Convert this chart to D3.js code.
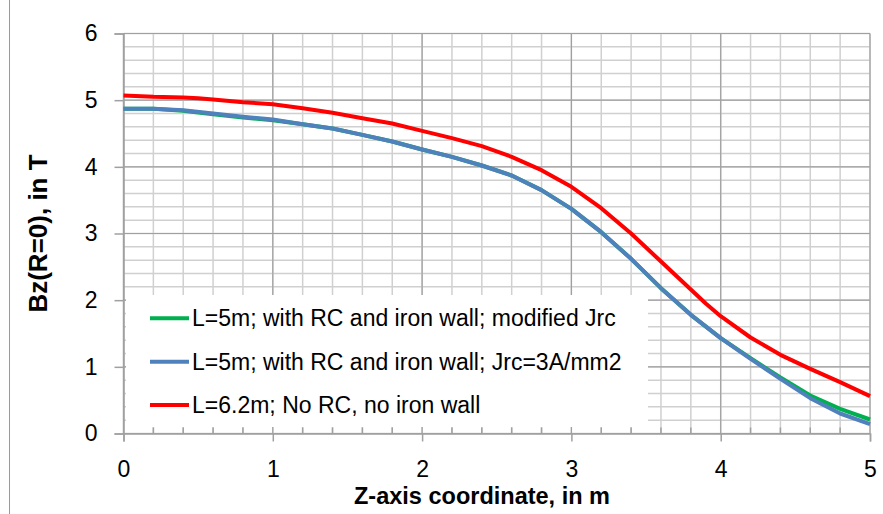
<!doctype html>
<html>
<head>
    <meta charset="UTF-8">
    <title>Bz on axis</title>
    <script src="https://d3js.org/d3.v7.min.js" charset="utf-8"></script>
    <style>
        body { margin: 0; background: #fff; }
        * { font-family: "Liberation Sans", Arial, sans-serif; }
    </style>
</head>
<body>
<script>
    // z positions (m) and Bz values (T)
    var zRed   = [0, 0.2, 0.4, 0.5, 0.6, 0.8, 1.0, 1.2, 1.4, 1.6, 1.8, 2.0, 2.2, 2.4, 2.6, 2.8, 3.0, 3.2, 3.4, 3.6, 3.8, 3.9, 4.0, 4.2, 4.4, 4.6, 4.8, 5.0];
    var bRed   = [5.07, 5.05, 5.04, 5.03, 5.01, 4.97, 4.94, 4.88, 4.81, 4.73, 4.65, 4.54, 4.43, 4.31, 4.15, 3.95, 3.70, 3.38, 3.00, 2.58, 2.16, 1.95, 1.76, 1.44, 1.18, 0.97, 0.77, 0.56];
    var zBlue  = [0, 0.2, 0.4, 0.6, 0.8, 1.0, 1.2, 1.4, 1.6, 1.8, 2.0, 2.2, 2.4, 2.6, 2.8, 3.0, 3.2, 3.4, 3.6, 3.8, 4.0, 4.2, 4.4, 4.6, 4.8, 5.0];
    var bBlue  = [4.87, 4.87, 4.85, 4.80, 4.75, 4.71, 4.64, 4.575, 4.48, 4.38, 4.26, 4.15, 4.02, 3.87, 3.65, 3.37, 3.02, 2.62, 2.18, 1.78, 1.43, 1.12, 0.82, 0.53, 0.30, 0.14];
    var zGreen = zBlue;
    var bGreen = [4.87, 4.87, 4.84, 4.79, 4.74, 4.70, 4.64, 4.575, 4.48, 4.38, 4.26, 4.15, 4.02, 3.87, 3.65, 3.37, 3.02, 2.62, 2.18, 1.78, 1.43, 1.13, 0.84, 0.57, 0.37, 0.21];

    var seriesNames = ["L=5m; with RC and iron wall; modified Jrc",
                       "L=5m; with RC and iron wall; Jrc=3A/mm2",
                       "L=6.2m; No RC, no iron wall"];
    var seriesColors = ["#00b050", "#4f81bd", "#ff0000"];

    var xTicks = [0, 1, 2, 3, 4, 5];
    var yTicks = [0, 1, 2, 3, 4, 5, 6];

    var W = 883, H = 514;
    var pLeft = 123.5, pRight = 870, pTop = 33.5, pBottom = 433.5;

    var x = d3.scaleLinear().domain([0, 5]).range([pLeft, pRight]);
    var y = d3.scaleLinear().domain([0, 6]).range([pBottom, pTop]);

    var svg = d3.select("body").append("svg")
        .attr("width", W)
        .attr("height", H);

    // outer chart frame edge on the left
    svg.append("line")
        .attr("x1", 9.5).attr("x2", 9.5)
        .attr("y1", 0).attr("y2", H)
        .attr("stroke", "#9a9a9a")
        .attr("stroke-width", 1);

    // minor grid every 0.2
    var minorX = d3.range(0, 26).map(function(i) { return i * 0.2; });
    var minorY = d3.range(0, 31).map(function(i) { return i * 0.2; });

    svg.append("g").selectAll("line")
        .data(minorX)
        .enter().append("line")
            .attr("x1", function(d) { return x(d); })
            .attr("x2", function(d) { return x(d); })
            .attr("y1", pTop).attr("y2", pBottom)
            .attr("stroke", "#d0d0d0")
            .attr("stroke-width", 1.5);

    svg.append("g").selectAll("line")
        .data(minorY)
        .enter().append("line")
            .attr("x1", pLeft).attr("x2", pRight)
            .attr("y1", function(d) { return y(d); })
            .attr("y2", function(d) { return y(d); })
            .attr("stroke", "#d0d0d0")
            .attr("stroke-width", 1.5);

    // major grid
    svg.append("g").selectAll("line")
        .data(xTicks)
        .enter().append("line")
            .attr("x1", function(d) { return x(d); })
            .attr("x2", function(d) { return x(d); })
            .attr("y1", pTop).attr("y2", pBottom)
            .attr("stroke", "#a0a0a0")
            .attr("stroke-width", 1.2);

    svg.append("g").selectAll("line")
        .data(yTicks)
        .enter().append("line")
            .attr("x1", pLeft).attr("x2", pRight)
            .attr("y1", function(d) { return y(d); })
            .attr("y2", function(d) { return y(d); })
            .attr("stroke", "#a0a0a0")
            .attr("stroke-width", 1.2);

    // axes
    var xAxis = d3.axisBottom(x).tickValues(xTicks).tickFormat(d3.format("d")).tickSize(8).tickPadding(19);
    var yAxis = d3.axisLeft(y).tickValues(yTicks).tickFormat(d3.format("d")).tickSize(9).tickPadding(17);

    var gx = svg.append("g").attr("transform", "translate(0," + pBottom + ")").call(xAxis);
    var gy = svg.append("g").attr("transform", "translate(" + pLeft + ",0)").call(yAxis);

    [gx, gy].forEach(function(g) {
        g.select(".domain").attr("stroke", "#a0a0a0").attr("stroke-width", 1.5);
        g.selectAll(".tick line").attr("stroke", "#a0a0a0").attr("stroke-width", 1.5);
        g.selectAll(".tick text")
            .attr("font-size", 23)
            .attr("font-family", "Liberation Sans")
            .attr("fill", "#000");
    });

    // small inside ticks at minor steps
    svg.append("g").selectAll("line")
        .data(minorX.filter(function(d) { return Math.abs(d - Math.round(d)) > 0.01; }))
        .enter().append("line")
            .attr("x1", function(d) { return x(d); })
            .attr("x2", function(d) { return x(d); })
            .attr("y1", pBottom - 6).attr("y2", pBottom)
            .attr("stroke", "#a0a0a0")
            .attr("stroke-width", 1.5);

    // series lines
    var lineGen = d3.line()
        .x(function(d) { return x(d[0]); })
        .y(function(d) { return y(d[1]); });

    var series = [
        d3.zip(zGreen, bGreen),
        d3.zip(zBlue, bBlue),
        d3.zip(zRed, bRed)
    ];

    svg.append("g").selectAll("path")
        .data(series)
        .enter().append("path")
            .attr("d", lineGen)
            .attr("fill", "none")
            .attr("stroke", function(d, i) { return seriesColors[i]; })
            .attr("stroke-width", 4)
            .attr("stroke-linejoin", "round");

    // legend box sits over the plot
    var legend = svg.append("g");
    legend.append("rect")
        .attr("x", 126).attr("y", 295)
        .attr("width", 522).attr("height", 132)
        .attr("fill", "#fff");

    var rows = legend.selectAll(".row")
        .data(seriesNames)
        .enter().append("g")
            .attr("class", "row")
            .attr("transform", function(d, i) { return "translate(150," + (318.3 + i * 43.4) + ")"; });

    rows.append("line")
        .attr("x1", 0).attr("x2", 39)
        .attr("stroke", function(d, i) { return seriesColors[i]; })
        .attr("stroke-width", 4);

    rows.append("text")
        .attr("x", 42)
        .attr("dy", "0.35em")
        .attr("font-size", 23)
        .text(function(d) { return d; });

    // axis titles
    svg.append("text")
        .attr("x", 482)
        .attr("y", 504)
        .attr("text-anchor", "middle")
        .attr("font-weight", "bold")
        .attr("font-size", 23.5)
        .text("Z-axis coordinate, in m");

    svg.append("text")
        .attr("transform", "translate(47," + ((pTop + pBottom) / 2) + ") rotate(-90)")
        .attr("text-anchor", "middle")
        .attr("font-weight", "bold")
        .attr("font-size", 26)
        .text("Bz(R=0), in T");
</script>
</body>
</html>
